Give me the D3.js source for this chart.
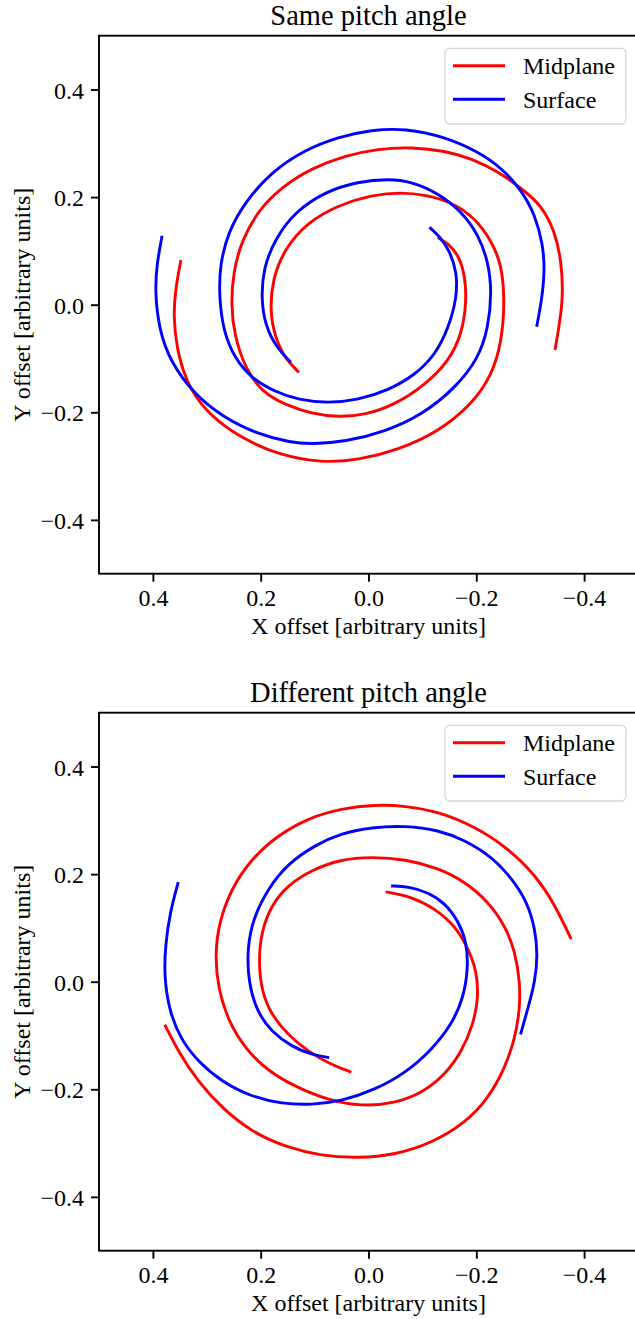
<!DOCTYPE html>
<html>
<head>
<meta charset="utf-8">
<script src="https://cdn.jsdelivr.net/npm/d3@7"></script>
<style>
  body { margin: 0; background: #fff; }
  svg text { font-family: "Liberation Serif", "Times New Roman", serif; fill: #000; }
</style>
</head>
<body>
<div id="chart"></div>
<script>
// --- Data, in axis units [x, y] ---

const xTicks = [0.4, 0.2, 0.0, -0.2, -0.4];
const yTicks = [-0.4, -0.2, 0.0, 0.2, 0.4];
const seriesNames = ["Midplane", "Surface"];
const panelTitles = ["Same pitch angle", "Different pitch angle"];

// Same pitch angle
const sameMidArm1 = [
    [0.348, 0.083], [0.358, 0.030], [0.362, -0.019], [0.356, -0.081], [0.340, -0.137],
    [0.316, -0.180], [0.279, -0.218], [0.229, -0.251], [0.167, -0.279], [0.087, -0.294],
    [0.019, -0.289], [-0.055, -0.270], [-0.130, -0.236], [-0.191, -0.186], [-0.229, -0.131],
    [-0.247, -0.069], [-0.253, 0.006], [-0.247, 0.074], [-0.229, 0.117], [-0.198, 0.161],
    [-0.154, 0.191], [-0.105, 0.204], [-0.062, 0.209], [-0.006, 0.204], [0.056, 0.185],
    [0.112, 0.154], [0.155, 0.105], [0.178, 0.049], [0.183, -0.013], [0.173, -0.062],
    [0.155, -0.100], [0.129, -0.126]
];
const sameMidArm2 = [
    [-0.346, -0.084], [-0.355, -0.032], [-0.361, 0.018], [-0.358, 0.080], [-0.346, 0.136],
    [-0.321, 0.185], [-0.284, 0.216], [-0.241, 0.247], [-0.191, 0.272], [-0.142, 0.286],
    [-0.080, 0.293], [-0.018, 0.290], [0.044, 0.277], [0.105, 0.254], [0.161, 0.219],
    [0.204, 0.176], [0.235, 0.120], [0.251, 0.061], [0.255, -0.001], [0.249, -0.056],
    [0.229, -0.118], [0.198, -0.162], [0.155, -0.186], [0.105, -0.203], [0.056, -0.209],
    [0.006, -0.205], [-0.049, -0.186], [-0.105, -0.149], [-0.148, -0.106], [-0.173, -0.056],
    [-0.182, 0.006], [-0.179, 0.055], [-0.167, 0.092], [-0.148, 0.114], [-0.128, 0.125]
];
const sameSurfArm1 = [
    [0.383, 0.128], [0.393, 0.074], [0.396, 0.024], [0.389, -0.044], [0.368, -0.106],
    [0.322, -0.168], [0.271, -0.208], [0.211, -0.239], [0.142, -0.257], [0.105, -0.259],
    [0.044, -0.255], [-0.031, -0.236], [-0.099, -0.205], [-0.161, -0.155], [-0.204, -0.100],
    [-0.222, -0.044], [-0.229, 0.024], [-0.222, 0.080], [-0.204, 0.130], [-0.173, 0.173],
    [-0.130, 0.207], [-0.080, 0.229], [-0.037, 0.234], [0.019, 0.229], [0.081, 0.210],
    [0.136, 0.173], [0.173, 0.123], [0.195, 0.068], [0.199, 0.012], [0.192, -0.038],
    [0.170, -0.081], [0.144, -0.107]
];
const sameSurfArm2 = [
    [-0.312, -0.041], [-0.321, 0.006], [-0.327, 0.061], [-0.324, 0.111], [-0.309, 0.167],
    [-0.284, 0.213], [-0.247, 0.254], [-0.204, 0.284], [-0.142, 0.312], [-0.068, 0.328],
    [-0.006, 0.325], [0.056, 0.312], [0.118, 0.288], [0.180, 0.247], [0.229, 0.191],
    [0.260, 0.136], [0.276, 0.074], [0.277, 0.012], [0.269, -0.050], [0.248, -0.100],
    [0.217, -0.137], [0.173, -0.162], [0.130, -0.177], [0.075, -0.183], [0.019, -0.177],
    [-0.037, -0.159], [-0.086, -0.131], [-0.124, -0.093], [-0.148, -0.044], [-0.164, 0.012],
    [-0.164, 0.061], [-0.151, 0.099], [-0.133, 0.126], [-0.113, 0.144]
];

// Different pitch angle
const diffMidArm1 = [
    [-0.376, 0.079], [-0.346, 0.143], [-0.309, 0.199], [-0.259, 0.248], [-0.198, 0.288],
    [-0.130, 0.316], [-0.068, 0.327], [-0.012, 0.329], [0.050, 0.322], [0.112, 0.304],
    [0.167, 0.273], [0.217, 0.229], [0.254, 0.174], [0.277, 0.112], [0.285, 0.050],
    [0.279, -0.012], [0.260, -0.074], [0.229, -0.124], [0.186, -0.167], [0.130, -0.198],
    [0.075, -0.220], [0.013, -0.232], [-0.049, -0.226], [-0.099, -0.207], [-0.142, -0.173],
    [-0.173, -0.130], [-0.194, -0.080], [-0.204, -0.031], [-0.201, 0.019], [-0.185, 0.062],
    [-0.160, 0.105], [-0.123, 0.136], [-0.080, 0.158], [-0.032, 0.167]
];
const diffMidArm2 = [
    [0.378, -0.080], [0.353, -0.130], [0.316, -0.186], [0.272, -0.235], [0.217, -0.279],
    [0.155, -0.307], [0.087, -0.324], [0.019, -0.328], [-0.049, -0.322], [-0.117, -0.300],
    [-0.179, -0.263], [-0.222, -0.217], [-0.253, -0.161], [-0.272, -0.105], [-0.281, -0.049],
    [-0.281, 0.000], [-0.272, 0.056], [-0.253, 0.105], [-0.222, 0.149], [-0.179, 0.186],
    [-0.130, 0.211], [-0.068, 0.228], [-0.006, 0.232], [0.050, 0.228], [0.105, 0.208],
    [0.149, 0.180], [0.180, 0.143], [0.199, 0.093], [0.204, 0.037], [0.198, -0.019],
    [0.180, -0.062], [0.149, -0.099], [0.112, -0.130], [0.068, -0.155], [0.032, -0.168]
];
const diffSurfArm1 = [
    [0.353, 0.185], [0.368, 0.130], [0.377, 0.068], [0.379, 0.012], [0.371, -0.049],
    [0.350, -0.105], [0.316, -0.149], [0.272, -0.186], [0.217, -0.214], [0.161, -0.227],
    [0.105, -0.229], [0.050, -0.222], [-0.012, -0.201], [-0.068, -0.170], [-0.117, -0.127],
    [-0.154, -0.080], [-0.176, -0.031], [-0.185, 0.025], [-0.182, 0.074], [-0.167, 0.112],
    [-0.142, 0.146], [-0.111, 0.166], [-0.074, 0.177], [-0.042, 0.178]
];
const diffSurfArm2 = [
    [-0.282, -0.098], [-0.296, -0.049], [-0.309, 0.000], [-0.314, 0.050], [-0.309, 0.099],
    [-0.294, 0.149], [-0.266, 0.192], [-0.229, 0.232], [-0.179, 0.263], [-0.130, 0.282],
    [-0.068, 0.290], [-0.006, 0.287], [0.050, 0.276], [0.099, 0.254], [0.149, 0.220],
    [0.186, 0.174], [0.214, 0.118], [0.225, 0.062], [0.223, 0.000], [0.207, -0.056],
    [0.180, -0.093], [0.142, -0.121], [0.105, -0.136], [0.073, -0.141]
];

// --- Layout / style ---
const colors = { Midplane: "#ff0000", Surface: "#0000ff" };
const width = 635, height = 1319;
const plotLeft = 99, plotW = 539, plotH = 538;
const panelTops = [35.7, 712.7];
const lineW = 2.9;

const panels = [
    { title: panelTitles[0], arms: [
        { name: seriesNames[0], pts: sameMidArm1 }, { name: seriesNames[0], pts: sameMidArm2 },
        { name: seriesNames[1], pts: sameSurfArm1 }, { name: seriesNames[1], pts: sameSurfArm2 }] },
    { title: panelTitles[1], arms: [
        { name: seriesNames[0], pts: diffMidArm1 }, { name: seriesNames[0], pts: diffMidArm2 },
        { name: seriesNames[1], pts: diffSurfArm1 }, { name: seriesNames[1], pts: diffSurfArm2 }] }
];

const svg = d3.select("#chart").append("svg")
    .attr("width", width)
    .attr("height", height);

function drawPanel(panel, top) {
    const g = svg.append("g").attr("transform", `translate(0,${top})`);

    const x = d3.scaleLinear().domain([0.5, -0.5]).range([plotLeft, plotLeft + plotW]);
    const y = d3.scaleLinear().domain([-0.5, 0.5]).range([plotH, 0]);
    const fmt = d3.format(".1f");

    // title
    g.append("text")
        .attr("x", plotLeft + plotW / 2)
        .attr("y", -10.6)
        .attr("text-anchor", "middle")
        .style("font-size", "28.5px")
        .text(panel.title);

    // axes
    const xAxis = g.append("g")
        .attr("transform", `translate(0,${plotH})`)
        .call(d3.axisBottom(x).tickValues(xTicks).tickFormat(fmt).tickSize(8).tickPadding(7));
    const yAxis = g.append("g")
        .attr("transform", `translate(${plotLeft},0)`)
        .call(d3.axisLeft(y).tickValues(yTicks).tickFormat(fmt).tickSize(8).tickPadding(7));
    [xAxis, yAxis].forEach(a => {
        a.select(".domain").remove();
        a.selectAll(".tick line").attr("stroke", "#000").attr("stroke-width", 1.9);
        a.selectAll(".tick text").style("font-size", "24px").attr("fill", "#000");
    });
    yAxis.selectAll(".tick text").attr("dy", "0.36em");

    // frame
    g.append("rect")
        .attr("x", plotLeft).attr("y", 0)
        .attr("width", plotW).attr("height", plotH)
        .attr("fill", "none").attr("stroke", "#000").attr("stroke-width", 1.9);

    // axis labels
    g.append("text")
        .attr("x", plotLeft + plotW / 2)
        .attr("y", plotH + 60.5)
        .attr("text-anchor", "middle")
        .style("font-size", "24px")
        .text("X offset [arbitrary units]");
    g.append("text")
        .attr("transform", `translate(30,${plotH / 2}) rotate(-90)`)
        .attr("text-anchor", "middle")
        .style("font-size", "24px")
        .text("Y offset [arbitrary units]");

    // spiral arms
    const line = d3.line()
        .x(d => x(d[0]))
        .y(d => y(d[1]))
        .curve(d3.curveBasis);

    g.selectAll("path.arm")
        .data(panel.arms)
        .enter()
        .append("path")
        .attr("class", "arm")
        .attr("d", d => line(d.pts))
        .attr("fill", "none")
        .attr("stroke", d => colors[d.name])
        .attr("stroke-width", lineW)
        .attr("stroke-linecap", "butt");

    // legend
    const leg = g.append("g").attr("transform", `translate(445,12.6)`);
    leg.append("rect")
        .attr("width", 181).attr("height", 75.7)
        .attr("rx", 5)
        .attr("fill", "#fff").attr("fill-opacity", 0.8)
        .attr("stroke", "#d6d6d6").attr("stroke-width", 1.3);
    seriesNames.forEach((name, i) => {
        const ly = 17.4 + i * 33.6;
        leg.append("line")
            .attr("x1", 8).attr("x2", 60)
            .attr("y1", ly).attr("y2", ly)
            .attr("stroke", colors[name])
            .attr("stroke-width", lineW);
        leg.append("text")
            .attr("x", 78)
            .attr("y", ly + 8.5)
            .style("font-size", "24px")
            .text(name);
    });
}

panels.forEach((p, i) => drawPanel(p, panelTops[i]));
</script>
</body>
</html>
